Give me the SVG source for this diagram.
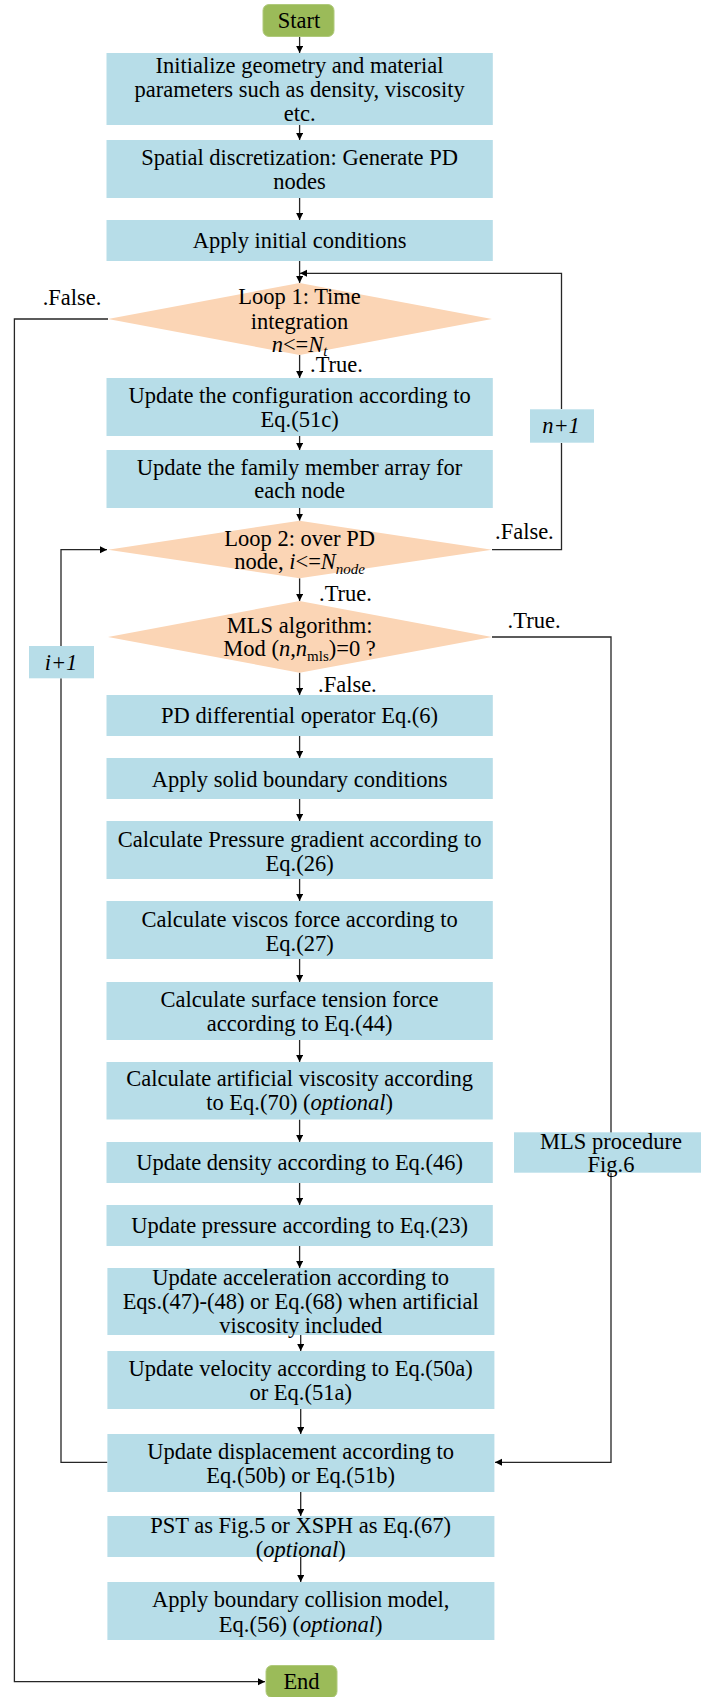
<svg xmlns="http://www.w3.org/2000/svg" width="701" height="1697" viewBox="0 0 701 1697">
<style>
text{font-family:"Liberation Serif","Times New Roman",serif;font-size:22.5px;fill:#000;text-anchor:middle}
.lbl{text-anchor:start}
.box{fill:#B7DDE8}
.dia{fill:#FBD5B5}
.term{fill:#9BBB59;stroke:#B0CA7C;stroke-width:1}
.c{fill:none;stroke:#262626;stroke-width:1.3}
.i{font-style:italic}
.sub{font-size:15px}
</style>
<defs>
<marker id="ah" markerUnits="userSpaceOnUse" markerWidth="8" markerHeight="8" refX="7" refY="3.5" orient="auto">
<path d="M0,0 L7,3.5 L0,7 Z" fill="#000"/>
</marker>
</defs>
<g id="connectors">
<path class="c" d="M299.6,37 V53" marker-end="url(#ah)"/>
<path class="c" d="M299.6,125 V140" marker-end="url(#ah)"/>
<path class="c" d="M299.6,198 V220" marker-end="url(#ah)"/>
<path class="c" d="M299.6,261 V283" marker-end="url(#ah)"/>
<path class="c" d="M561.5,409 V273.3 H300" marker-end="url(#ah)"/>
<path class="c" d="M108,319 H14.4 V1681.7 H265" marker-end="url(#ah)"/>
<path class="c" d="M299.6,355 V378" marker-end="url(#ah)"/>
<path class="c" d="M299.6,436 V450" marker-end="url(#ah)"/>
<path class="c" d="M299.6,508 V520.7" marker-end="url(#ah)"/>
<path class="c" d="M492,549.7 H561.5 V443"/>
<path class="c" d="M299.6,578.3 V601" marker-end="url(#ah)"/>
<path class="c" d="M492,637 H611 V1462.3 H495" marker-end="url(#ah)"/>
<path class="c" d="M299.6,672.7 V695" marker-end="url(#ah)"/>
<path class="c" d="M299.6,736 V758" marker-end="url(#ah)"/>
<path class="c" d="M299.6,799 V821" marker-end="url(#ah)"/>
<path class="c" d="M299.6,879 V901" marker-end="url(#ah)"/>
<path class="c" d="M299.6,959 V982" marker-end="url(#ah)"/>
<path class="c" d="M299.6,1040 V1062" marker-end="url(#ah)"/>
<path class="c" d="M299.6,1119.5 V1142" marker-end="url(#ah)"/>
<path class="c" d="M299.6,1183 V1205" marker-end="url(#ah)"/>
<path class="c" d="M299.6,1246 V1268" marker-end="url(#ah)"/>
<path class="c" d="M300.7,1335 V1351" marker-end="url(#ah)"/>
<path class="c" d="M300.7,1409 V1434" marker-end="url(#ah)"/>
<path class="c" d="M107.4,1462.3 H61 V678.3"/>
<path class="c" d="M61,646 V549.7 H107" marker-end="url(#ah)"/>
<path class="c" d="M300.7,1492 V1516" marker-end="url(#ah)"/>
<path class="c" d="M300.7,1557 V1582" marker-end="url(#ah)"/>
</g>
<g id="start">
<rect class="term" x="263" y="4.5" width="71" height="32" rx="6"/>
<text x="299" y="28.3">Start</text>
</g>
<g id="init">
<rect class="box" x="106.5" y="53" width="386.3" height="72"/>
<text x="299.6" y="72.5">Initialize geometry and material</text>
<text x="299.6" y="96.8">parameters such as density, viscosity</text>
<text x="299.6" y="121">etc.</text>
</g>
<g id="spatial">
<rect class="box" x="106.5" y="140" width="386.3" height="58"/>
<text x="299.6" y="165">Spatial discretization: Generate PD</text>
<text x="299.6" y="189.3">nodes</text>
</g>
<g id="initcond">
<rect class="box" x="106.5" y="220" width="386.3" height="41"/>
<text x="299.6" y="248.3">Apply initial conditions</text>
</g>
<g id="loop1">
<polygon class="dia" points="108,319 299.6,283 492,319 299.6,355"/>
<text x="299.6" y="303.5">Loop 1: Time</text>
<text x="299.6" y="328.5">integration</text>
<text x="299.6" y="351.5"><tspan class="i">n</tspan>&lt;=<tspan class="i">N</tspan><tspan class="i sub" dy="4">t</tspan></text>
</g>
<g id="config">
<rect class="box" x="106.5" y="378" width="386.3" height="58"/>
<text x="299.6" y="402.5">Update the configuration according to</text>
<text x="299.6" y="426.7">Eq.(51c)</text>
</g>
<g id="family">
<rect class="box" x="106.5" y="450" width="386.3" height="58"/>
<text x="299.6" y="474.5">Update the family member array for</text>
<text x="299.6" y="498.3">each node</text>
</g>
<g id="loop2">
<polygon class="dia" points="108,549.7 299.6,520.7 492,549.7 299.6,578.3"/>
<text x="299.6" y="545.8">Loop 2: over PD</text>
<text x="299.6" y="568.5">node, <tspan class="i">i</tspan>&lt;=<tspan class="i">N</tspan><tspan class="i sub" dy="5">node</tspan></text>
</g>
<g id="mls">
<polygon class="dia" points="108,637 299.6,601 492,637 299.6,672.7"/>
<text x="299.6" y="632.5">MLS algorithm:</text>
<text x="299.6" y="655.5">Mod (<tspan class="i">n</tspan>,<tspan class="i">n</tspan><tspan class="sub" dy="5">mls</tspan><tspan dy="-5">)=0 ?</tspan></text>
</g>
<g id="pdop">
<rect class="box" x="106.5" y="695" width="386.3" height="41"/>
<text x="299.6" y="723.2">PD differential operator Eq.(6)</text>
</g>
<g id="solidbc">
<rect class="box" x="106.5" y="758" width="386.3" height="41"/>
<text x="299.6" y="786.5">Apply solid boundary conditions</text>
</g>
<g id="pgrad">
<rect class="box" x="106.5" y="821" width="386.3" height="58"/>
<text x="299.6" y="846.5">Calculate Pressure gradient according to</text>
<text x="299.6" y="870.5">Eq.(26)</text>
</g>
<g id="visc">
<rect class="box" x="106.5" y="901" width="386.3" height="58"/>
<text x="299.6" y="926.5">Calculate viscos force according to</text>
<text x="299.6" y="950.8">Eq.(27)</text>
</g>
<g id="surf">
<rect class="box" x="106.5" y="982" width="386.3" height="58"/>
<text x="299.6" y="1006.5">Calculate surface tension force</text>
<text x="299.6" y="1030.5">according to Eq.(44)</text>
</g>
<g id="artvisc">
<rect class="box" x="106.5" y="1062" width="386.3" height="57.5"/>
<text x="299.6" y="1085.8">Calculate artificial viscosity according</text>
<text x="299.6" y="1110">to Eq.(70) (<tspan class="i">optional</tspan>)</text>
</g>
<g id="density">
<rect class="box" x="106.5" y="1142" width="386.3" height="41"/>
<text x="299.6" y="1169.8">Update density according to Eq.(46)</text>
</g>
<g id="pressure">
<rect class="box" x="106.5" y="1205" width="386.3" height="41"/>
<text x="299.6" y="1233.2">Update pressure according to Eq.(23)</text>
</g>
<g id="accel">
<rect class="box" x="107.4" y="1268" width="387" height="67"/>
<text x="300.7" y="1284.5">Update acceleration according to</text>
<text x="300.7" y="1308.5">Eqs.(47)-(48) or Eq.(68) when artificial</text>
<text x="300.7" y="1333">viscosity included</text>
</g>
<g id="velocity">
<rect class="box" x="107.4" y="1351" width="387" height="58"/>
<text x="300.7" y="1375.5">Update velocity according to Eq.(50a)</text>
<text x="300.7" y="1399.5">or Eq.(51a)</text>
</g>
<g id="displacement">
<rect class="box" x="107.4" y="1434" width="387" height="58"/>
<text x="300.7" y="1458.5">Update displacement according to</text>
<text x="300.7" y="1482.5">Eq.(50b) or Eq.(51b)</text>
</g>
<g id="pst">
<rect class="box" x="107.4" y="1516" width="387" height="41"/>
<text x="300.7" y="1532.5">PST as Fig.5 or XSPH as Eq.(67)</text>
<text x="300.7" y="1556.5">(<tspan class="i">optional</tspan>)</text>
</g>
<g id="collision">
<rect class="box" x="107.4" y="1582" width="387" height="58"/>
<text x="300.7" y="1606.5">Apply boundary collision model,</text>
<text x="300.7" y="1631.5">Eq.(56) (<tspan class="i">optional</tspan>)</text>
</g>
<g id="end">
<rect class="term" x="266" y="1665.5" width="71" height="32" rx="6"/>
<text x="301.5" y="1689.2">End</text>
</g>
<g id="mlsproc">
<rect class="box" x="514" y="1132.3" width="187" height="40.4"/>
<text x="611" y="1148.8">MLS procedure</text>
<text x="611" y="1172.2">Fig.6</text>
</g>
<g id="nplus1">
<rect class="box" x="530" y="409.3" width="64" height="33.4"/>
<text class="i" x="561" y="433.2">n+1</text>
</g>
<g id="iplus1">
<rect class="box" x="29" y="646" width="65" height="32.3"/>
<text class="i" x="61" y="669.8">i+1</text>
</g>
<g id="labels">
<text class="lbl" x="42.7" y="304.5">.False.</text>
<text class="lbl" x="310" y="371.5">.True.</text>
<text class="lbl" x="495" y="539.2">.False.</text>
<text class="lbl" x="319" y="600.5">.True.</text>
<text class="lbl" x="507.6" y="628.2">.True.</text>
<text class="lbl" x="318" y="692.2">.False.</text>
</g>
</svg>
